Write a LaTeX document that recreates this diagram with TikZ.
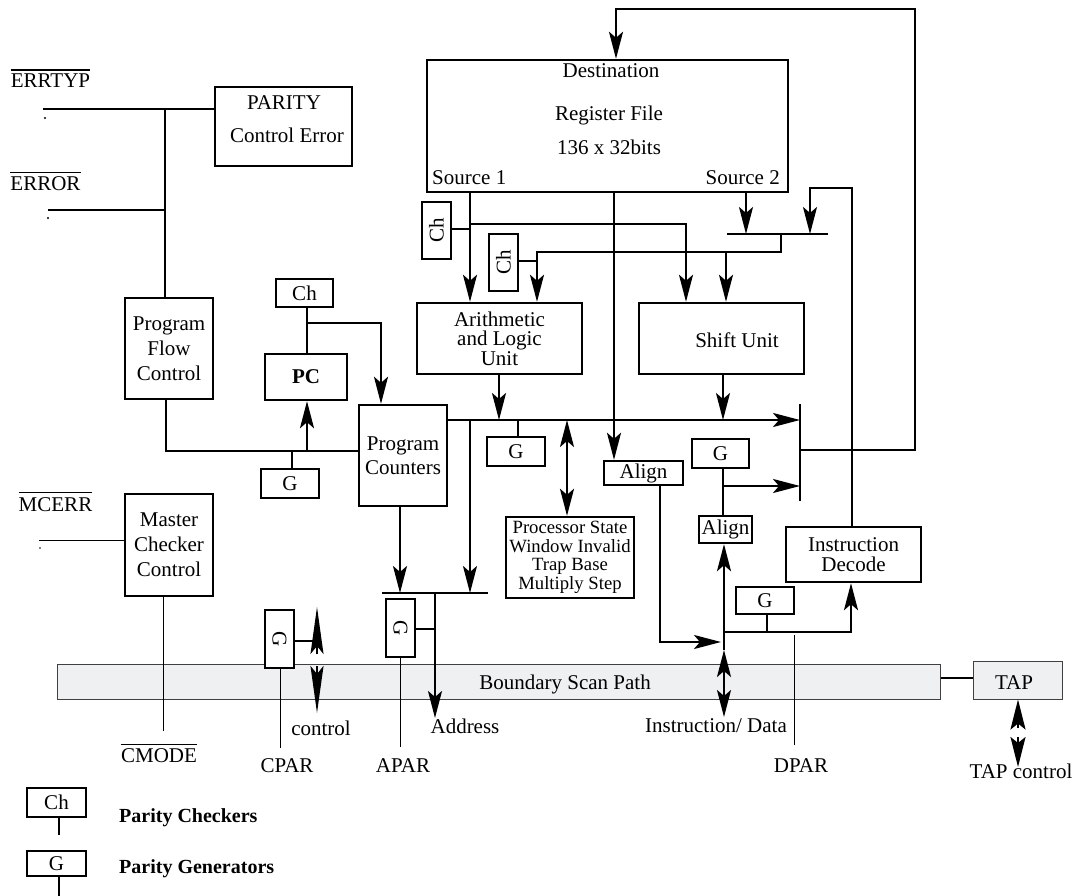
\documentclass[tikz,border=0pt]{standalone}
\usepackage{fontspec}
\setmainfont{Liberation Serif}
\usetikzlibrary{arrows.meta}
\definecolor{scan}{HTML}{EEF0F1}
\tikzset{
 box/.style={draw, line width=2.4pt, fill=white, inner sep=0pt, align=center, font=\fontsize{21}{25}\selectfont},
 ln/.style={line width=2.4pt},
 thinln/.style={line width=1pt},
 ovl/.style={line width=1.1pt},
 arr/.style={ln, -{Stealth[length=27pt,width=14pt,inset=6pt]}},
 darr/.style={ln, {Stealth[length=27pt,width=14pt,inset=6pt]}-{Stealth[length=27pt,width=14pt,inset=6pt]}},
 longhead/.style={ln, -{Stealth[length=47pt,width=13pt,inset=8pt]}},
 taphead/.style={ln, -{Stealth[length=30pt,width=15pt,inset=6pt]}},
 lbl/.style={inner sep=0pt, font=\fontsize{21}{25}\selectfont},
 legtext/.style={inner sep=0pt, anchor=base west, font=\fontsize{20}{24}\selectfont\bfseries},
}
\begin{document}
\begin{tikzpicture}[x=1pt,y=-1pt]
\path[use as bounding box] (0,0) rectangle (1077,896);

% boundary scan path first (drawn under)
\node[draw=black!75, line width=1pt, fill=scan, inner sep=0pt, minimum width=883pt, minimum height=35pt] (bsp) at (498.5,681.5) {};
\node[lbl, anchor=base] at (565,689) {Boundary Scan Path};
\node[draw=black!75, line width=1pt, fill=scan, inner sep=0pt, minimum width=89pt, minimum height=38pt] (tap) at (1017.5,680) {};
\node[lbl, anchor=base] at (1014,689) {TAP};

% boxes
\node[box, minimum width=137pt, minimum height=79pt] (parity) at (283.5,126.5) {};
\node[lbl, anchor=base] at (284,110) {PARITY};
\node[lbl, anchor=base] at (287,143) {Control Error};

\node[box, minimum width=361pt, minimum height=132pt] (rf) at (607.5,126) {};
\node[lbl, anchor=base] at (611,78) {Destination};
\node[lbl, anchor=base] at (609,121) {Register File};
\node[lbl, anchor=base] at (609,155) {136 x 32bits};
\node[lbl, anchor=base west] at (432,185) {Source 1};
\node[lbl, anchor=base east] at (780,185) {Source 2};

\node[box, minimum width=29pt, minimum height=57pt] (ch1) at (436.5,230.5) {\rotatebox{90}{Ch}};
\node[box, minimum width=29pt, minimum height=57pt] (ch2) at (503.5,262.5) {\rotatebox{90}{Ch}};

\node[box, minimum width=165pt, minimum height=71pt, font=\fontsize{21}{19.5}\selectfont] (alu) at (499.5,338.5) {Arithmetic\\and Logic\\Unit};
\node[box, minimum width=165pt, minimum height=71pt] (shift) at (721.5,338.5) {};
\node[lbl] at (737,340) {Shift Unit};

\node[box, minimum width=88pt, minimum height=101pt] (pfc) at (169,348.5) {Program\\Flow\\Control};
\node[box, minimum width=57pt, minimum height=28pt] (chtop) at (304.5,293) {Ch};
\node[box, minimum width=82pt, minimum height=46pt] (pc) at (306,377) {\textbf{PC}};
\node[box, minimum width=58pt, minimum height=29pt] (gleft) at (290,483.5) {G};
\node[box, minimum width=88pt, minimum height=101pt, font=\fontsize{21}{24}\selectfont] (pcs) at (403,455.5) {Program\\Counters};
\node[box, minimum width=88pt, minimum height=102pt] (mcc) at (169,545) {Master\\Checker\\Control};

\node[box, minimum width=58pt, minimum height=29pt] (g1) at (516,451.5) {G};
\node[box, minimum width=128pt, minimum height=81pt, font=\fontsize{18.7}{18.6}\selectfont] (ps) at (570,557.5) {Processor State\\Window Invalid\\Trap Base\\Multiply Step};
\node[box, minimum width=79pt, minimum height=24pt] (align1) at (643.5,473) {Align};
\node[box, minimum width=57pt, minimum height=29pt] (g2) at (720.5,453.5) {G};
\node[box, minimum width=53pt, minimum height=27pt] (align2) at (725.5,529.5) {Align};
\node[box, minimum width=135pt, minimum height=55pt, font=\fontsize{21}{19.5}\selectfont] (id) at (853.5,554.5) {Instruction\\Decode};
\node[box, minimum width=58pt, minimum height=27pt] (g3) at (765,600.5) {G};

\node[box, minimum width=29pt, minimum height=58pt] (gcpar) at (279.5,639) {\rotatebox{-90}{G}};
\node[box, minimum width=29pt, minimum height=58pt] (gapar) at (400.5,628) {\rotatebox{-90}{G}};

% left signal labels
\node[lbl, anchor=base] (errtyp) at (50.5,88) {ERRTYP};
\draw[ovl] ([yshift=4pt]errtyp.north west) -- ([yshift=4pt]errtyp.north east);
\node[lbl, anchor=base] (errorl) at (45.5,191) {ERROR};
\draw[ovl] ([yshift=4pt]errorl.north west) -- ([yshift=4pt]errorl.north east);
\node[lbl, anchor=base] (mcerr) at (55.5,511) {MCERR};
\draw[ovl] ([yshift=4pt]mcerr.north west) -- ([yshift=4pt]mcerr.north east);
\node[lbl, anchor=base] (cmode) at (159,762) {CMODE};
\draw[ovl] ([yshift=3pt]cmode.north west) -- ([yshift=3pt]cmode.north east);
\fill (45,118) circle (1.1pt);
\fill (48,218) circle (1.1pt);
\fill (40,548) circle (0.9pt);

% top-left connectors
\draw[ln] (43,109) -- (parity.west |- 0,109);
\draw[ln] (165,109) -- (pfc.north -| 165,0);
\draw[ln] (48,210) -- (165,210);

% program flow / PC
\draw[ln] (pfc.south -| 166,0) -- (166,451) -- (pcs.west |- 0,451);
\draw[arr] (307,451) -- (pc.south -| 307,0);
\draw[ln] (gleft.north -| 292,0) -- (292,451);
\draw[ln] (chtop.south -| 307,0) -- (pc.north -| 307,0);
\draw[arr] (307,323) -- (381,323) -- (pcs.north -| 381,0);
\draw[arr] (pcs.south -| 400,0) -- (400,593);
\draw[ln] (382,593) -- (488,593);

% main bus
\draw[arr] (pcs.east |- 0,420) -- (800,420);
\draw[ln] (800,404) -- (800,501);
\draw[arr] (470,420) -- (470,593);
\draw[arr] (alu.south -| 499,0) -- (499,420);
\draw[ln] (518,420) -- (g1.north -| 518,0);
\draw[darr] (567,420) -- (ps.north -| 567,0);
\draw[arr] (shift.south -| 723,0) -- (723,420);
\draw[ln] (g2.south -| 723,0) -- (align2.north -| 723,0);
\draw[arr] (723,486) -- (800,486);
\draw[arr] (align1.south -| 660,0) -- (660,642) -- (721,642);
\draw[arr] (724,650) -- (align2.south -| 724,0);
\draw[darr] (724,650) -- (724,717);
\draw[arr] (724,632) -- (851,632) -- (id.south -| 851,0);
\draw[ln] (g3.south -| 767,0) -- (767,632);

% register file connections
\draw[arr] (800,450) -- (915,450) -- (915,9) -- (616,9) -- (rf.north -| 616,0);
\draw[arr] (id.north -| 852,0) -- (852,188) -- (810,188) -- (810,234);
\draw[ln] (727,234) -- (828,234);
\draw[arr] (rf.south -| 746,0) -- (746,234);
\draw[arr] (781,234) -- (781,252) -- (537,252) -- (alu.north -| 537,0);
\draw[arr] (726,252) -- (shift.north -| 726,0);
\draw[arr] (rf.south -| 470,0) -- (alu.north -| 470,0);
\draw[arr] (470,224) -- (686,224) -- (shift.north -| 686,0);
\draw[ln] (ch1.east |- 0,229) -- (470,229);
\draw[ln] (ch2.east |- 0,261) -- (537,261);
\draw[arr] (rf.south -| 614,0) -- (align1.north -| 614,0);

% bottom connectors
\draw[thinln] (39,540) -- (mcc.west |- 0,540);
\draw[thinln] (mcc.south -| 163,0) -- (163,731);
\draw[thinln] (gcpar.south -| 280,0) -- (280,748);
\draw[thinln] (gapar.south -| 400,0) -- (400,747);
\draw[thinln] (794,635) -- (794,745);
\draw[ln] (gcpar.east |- 0,641) -- (317,641);
\draw[longhead] (317,654) -- (317,607);
\draw[longhead] (317,666) -- (317,713);
\draw[ln] (gapar.east |- 0,629) -- (435,629);
\draw[arr] (435,593) -- (435,718);
\draw[ln] (bsp.east |- 0,678) -- (tap.west |- 0,678);
\draw[taphead] (1018,728) -- (tap.south -| 1018,0);
\draw[taphead] (1018,737) -- (1018,767);

% bottom labels
\node[lbl, anchor=base] at (321,735) {control};
\node[lbl, anchor=base] at (287,772) {CPAR};
\node[lbl, anchor=base] at (403,772) {APAR};
\node[lbl, anchor=base] at (465,733) {Address};
\node[lbl, anchor=base] at (716,732) {Instruction/ Data};
\node[lbl, anchor=base] at (801,772) {DPAR};
\node[lbl, anchor=base] at (1021,778) {TAP control};

% legend
\node[box, minimum width=59pt, minimum height=29pt] (legch) at (56.5,802.5) {Ch};
\draw[ln] (legch.south -| 59,0) -- (59,835);
\node[box, minimum width=59pt, minimum height=25pt] (legg) at (56.5,863.5) {G};
\draw[ln] (legg.south -| 59,0) -- (59,896);
\node[legtext] at (119,822) {Parity Checkers};
\node[legtext] at (119,873) {Parity Generators};
\end{tikzpicture}
\end{document}
